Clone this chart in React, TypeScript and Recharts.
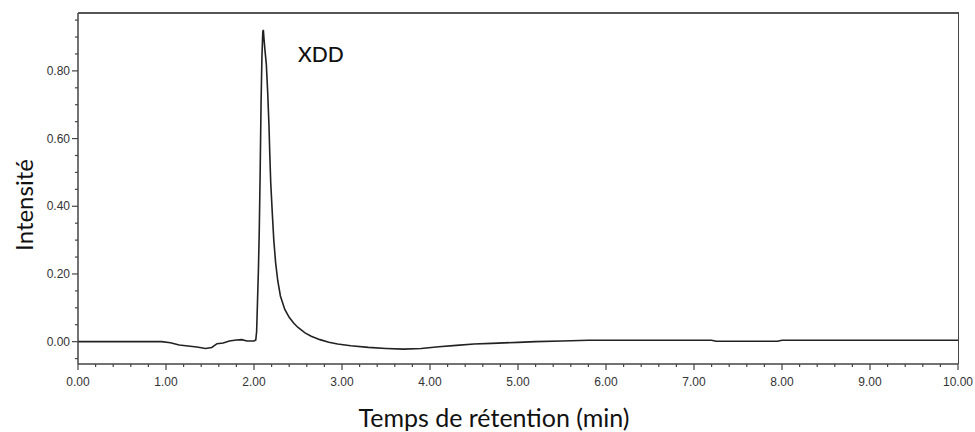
import React from "react";
import {
  LineChart,
  Line,
  XAxis,
  YAxis,
  ReferenceDot,
  Label,
} from "recharts";

// Retention time (min)
const times: number[] = [
  0.0, 0.5, 0.95, 1.05, 1.15, 1.25, 1.35, 1.45, 1.52, 1.58, 1.65, 1.72, 1.8,
  1.86, 1.92, 2.0, 2.02, 2.03, 2.04, 2.05, 2.06, 2.07, 2.08, 2.09, 2.1, 2.106,
  2.115, 2.125, 2.14, 2.155, 2.17, 2.18, 2.19, 2.21, 2.225, 2.245, 2.27, 2.3,
  2.35, 2.4, 2.45, 2.5, 2.58, 2.65, 2.75, 2.85, 2.95, 3.1, 3.3, 3.5, 3.7, 3.9,
  4.1, 4.3, 4.5, 4.7, 5.0, 5.2, 5.5, 5.8, 6.2, 7.2, 7.25, 7.95, 8.0, 10.0,
];

// Intensity
const intensities: number[] = [
  0.0, 0.0, 0.0, -0.003, -0.01, -0.013, -0.016, -0.02, -0.017, -0.006, -0.004,
  0.002, 0.005, 0.006, 0.002, 0.002, 0.005, 0.03, 0.12, 0.21, 0.33, 0.5, 0.7,
  0.84, 0.915, 0.921, 0.89, 0.86, 0.82, 0.74, 0.64, 0.55, 0.47, 0.37, 0.3,
  0.235, 0.18, 0.135, 0.095, 0.072, 0.055, 0.042, 0.026, 0.016, 0.006, -0.002,
  -0.007, -0.012, -0.017, -0.02, -0.022, -0.02, -0.015, -0.011, -0.007, -0.005,
  -0.002, 0.0, 0.002, 0.004, 0.004, 0.004, 0.001, 0.001, 0.004, 0.004,
];

const xMajorTicks: number[] = [0, 1, 2, 3, 4, 5, 6, 7, 8, 9, 10];
const yMajorTicks: number[] = [0, 0.2, 0.4, 0.6, 0.8];
const xMinorStep = 0.2;
const yMinorStep = 0.05;
const xDomain: [number, number] = [0, 10];
const yDomain: [number, number] = [-0.066, 0.971];

const xTicks: number[] = Array.from({ length: 51 }, (_, i) =>
  Math.round(i * xMinorStep * 100) / 100
);
const yTicks: number[] = Array.from({ length: 21 }, (_, i) =>
  Math.round((-0.05 + i * yMinorStep) * 100) / 100
);

const data = times.map((t, i) => ({ t, v: intensities[i] }));

// Layout constants
const CHART_W = 975;
const CHART_H = 432;
const MARGIN = { top: 13, right: 17, left: 0, bottom: 0 };
const Y_AXIS_W = 78;
const X_AXIS_H = 68;
const PLOT_W = CHART_W - MARGIN.left - MARGIN.right - Y_AXIS_W;
const PLOT_H = CHART_H - MARGIN.top - MARGIN.bottom - X_AXIS_H;

const isMajor = (v: number, majors: number[]) =>
  majors.some((m) => Math.abs(m - v) < 1e-6);

const tickFont = "'Liberation Sans', Arial, sans-serif";
const titleFont = "Lato, 'Noto Sans', sans-serif";
const axisColor = "#444";
const frameColor = "#555";

const XTick = (props: any) => {
  const { x, y, payload } = props;
  const major = isMajor(payload.value, xMajorTicks);
  return (
    <g>
      <line x1={x} x2={x} y1={y} y2={y + (major ? 6 : 3)} stroke={axisColor} strokeWidth={1.2} />
      {major && (
        <text x={x} y={y + 22} textAnchor="middle" fontSize={12} fontFamily={tickFont} fill="#333">
          {payload.value.toFixed(2)}
        </text>
      )}
    </g>
  );
};

const YTick = (props: any) => {
  const { x, y, payload } = props;
  const major = isMajor(payload.value, yMajorTicks);
  return (
    <g>
      <line x1={x - (major ? 6 : 3)} x2={x} y1={y} y2={y} stroke={axisColor} strokeWidth={1.2} />
      {major && (
        <text x={x - 8} y={y + 4} textAnchor="end" fontSize={12} fontFamily={tickFont} fill="#333">
          {payload.value.toFixed(2)}
        </text>
      )}
    </g>
  );
};

export default function App() {
  return (
    <div
      style={{
        position: "absolute",
        left: 0,
        top: 0,
        width: CHART_W,
        height: CHART_H,
        background: "#fff",
      }}
    >
      <LineChart width={CHART_W} height={CHART_H} data={data} margin={MARGIN}>
        <XAxis
          dataKey="t"
          type="number"
          domain={xDomain}
          ticks={xTicks}
          interval={0}
          tick={<XTick />}
          tickLine={false}
          tickSize={0}
          tickMargin={0}
          height={X_AXIS_H}
          axisLine={{ stroke: axisColor, strokeWidth: 1.5 }}
        >
          <Label
            content={(p: any) => {
              const vb = p.viewBox || {};
              return (
                <text
                  x={vb.x + 416}
                  y={vb.y + 63}
                  textAnchor="middle"
                  fontSize={25}
                  fontFamily={titleFont}
                  fill="#111"
                >
                  Temps de rétention (min)
                </text>
              );
            }}
          />
        </XAxis>
        <YAxis
          type="number"
          domain={yDomain}
          ticks={yTicks}
          interval={0}
          tick={<YTick />}
          tickLine={false}
          tickSize={0}
          tickMargin={0}
          width={Y_AXIS_W}
          axisLine={{ stroke: axisColor, strokeWidth: 1.5 }}
          allowDataOverflow
        >
          <Label
            content={() => {
              const cx = 23;
              const cy = 205;
              return (
                <text
                  x={cx}
                  y={cy}
                  transform={`rotate(-90 ${cx} ${cy})`}
                  textAnchor="middle"
                  dominantBaseline="central"
                  fontSize={24}
                  fontFamily={titleFont}
                  fill="#111"
                >
                  Intensité
                </text>
              );
            }}
          />
        </YAxis>
        <Line
          type="linear"
          dataKey="v"
          stroke="#222"
          strokeWidth={1.6}
          dot={false}
          isAnimationActive={false}
        />
        <ReferenceDot
          x={2.5}
          y={0.826}
          r={0}
          fill="none"
          stroke="none"
          ifOverflow="visible"
          label={(p: any) => {
            const vb = p.viewBox || {};
            return (
              <text
                x={vb.x}
                y={vb.y}
                textAnchor="start"
                fontSize={21}
                fontFamily={titleFont}
                fontWeight={500}
                fill="#111"
              >
                XDD
              </text>
            );
          }}
        />
      </LineChart>
      {/* plot frame (top and right edges) */}
      <div
        style={{
          position: "absolute",
          left: MARGIN.left + Y_AXIS_W,
          top: MARGIN.top - 1,
          width: PLOT_W + 1,
          height: PLOT_H + 1,
          boxSizing: "border-box",
          borderTop: `2px solid ${frameColor}`,
          borderRight: `1.5px solid ${axisColor}`,
          pointerEvents: "none",
        }}
      />
    </div>
  );
}
